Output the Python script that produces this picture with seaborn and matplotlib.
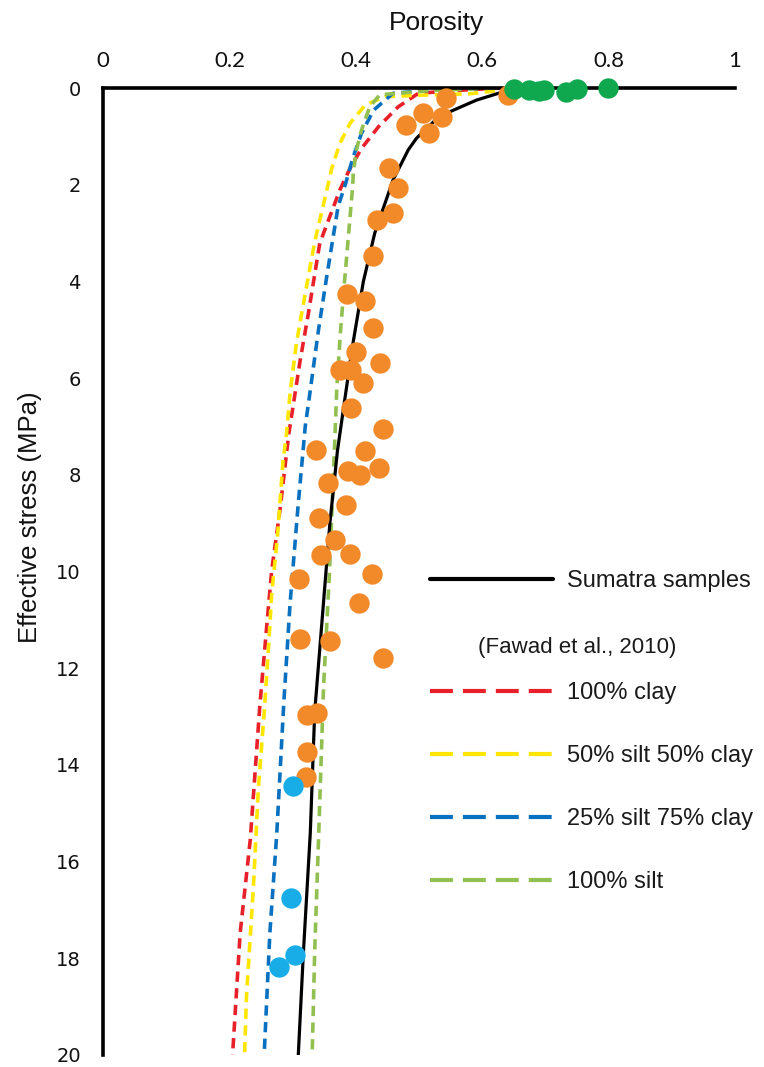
import numpy as np
import pandas as pd
import matplotlib
matplotlib.use("Agg")
import matplotlib.pyplot as plt
from matplotlib.lines import Line2D
import seaborn as sns

# Sumatra samples (porosity, effective stress in MPa)
orange_poro = [0.543, 0.641, 0.507, 0.536, 0.480, 0.516, 0.453, 0.466, 0.459, 0.433,
               0.428, 0.386, 0.415, 0.427, 0.400, 0.438, 0.375, 0.392, 0.412, 0.392,
               0.443, 0.337, 0.415, 0.387, 0.406, 0.437, 0.356, 0.384, 0.341, 0.367,
               0.345, 0.391, 0.425, 0.310, 0.405, 0.311, 0.359, 0.443, 0.322, 0.339,
               0.322, 0.321]
orange_stress = [0.21, 0.15, 0.52, 0.59, 0.77, 0.94, 1.66, 2.06, 2.59, 2.74,
                 3.47, 4.26, 4.40, 4.96, 5.46, 5.68, 5.83, 5.83, 6.10, 6.61,
                 7.06, 7.49, 7.50, 7.92, 8.01, 7.85, 8.16, 8.63, 8.89, 9.35,
                 9.65, 9.64, 10.05, 10.15, 10.66, 11.40, 11.44, 11.79, 12.97, 12.93,
                 13.73, 14.26]
green_poro = [0.651, 0.674, 0.690, 0.697, 0.733, 0.750, 0.799]
green_stress = [0.02, 0.04, 0.07, 0.05, 0.08, 0.03, 0.0]
blue_poro = [0.300, 0.297, 0.304, 0.279]
blue_stress = [14.44, 16.75, 17.94, 18.19]

# trend curves
sumatra_stress = [0, 0.08, 0.25, 0.49, 0.70, 1.04, 1.28, 1.90, 3.0, 4.0, 5.4, 7.5, 9.0, 12.9, 15.4, 17.9, 20]
sumatra_poro = [0.66, 0.633, 0.591, 0.549, 0.523, 0.496, 0.483, 0.459, 0.430, 0.412, 0.394, 0.371, 0.359, 0.335, 0.328, 0.317, 0.309]

clay_stress = [0.0, 0.05, 0.11, 0.39, 0.80, 1.25, 1.66, 2.10, 3.21, 4.66, 5.63, 6.73, 7.15, 8.73, 9.97, 11.14, 12.8, 15.55, 17.48, 20.0]
clay_poro = [0.63, 0.56, 0.499, 0.467, 0.436, 0.409, 0.391, 0.375, 0.343, 0.325, 0.312, 0.299, 0.294, 0.280, 0.267, 0.259, 0.248, 0.233, 0.217, 0.205]

silt50_stress = [0.06, 0.12, 0.15, 0.18, 0.35, 0.73, 1.14, 1.66, 2.12, 3.18, 4.25, 5.28, 6.31, 7.2, 7.69, 9.28, 10.45, 11.55, 12.93, 14.45, 16.52, 18.79, 20.0]
silt50_poro = [0.62, 0.58, 0.50, 0.446, 0.415, 0.391, 0.375, 0.362, 0.354, 0.335, 0.320, 0.306, 0.296, 0.290, 0.285, 0.276, 0.267, 0.262, 0.255, 0.246, 0.238, 0.227, 0.224]

silt25_stress = [0.0, 0.04, 0.11, 0.46, 0.94, 1.42, 1.97, 2.45, 3.90, 5.0, 6.25, 7.0, 8.59, 10.66, 12.73, 15.41, 17.48, 20.0]
silt25_poro = [0.62, 0.52, 0.459, 0.428, 0.409, 0.396, 0.384, 0.372, 0.354, 0.341, 0.328, 0.320, 0.309, 0.296, 0.286, 0.275, 0.264, 0.255]

silt100_stress = [0.0, 0.05, 0.14, 0.39, 0.87, 1.28, 1.76, 2.04, 3.11, 4.18, 5.0, 6.18, 7.21, 10.11, 12.38, 15.55, 17.83, 20.0]
silt100_poro = [0.62, 0.52, 0.438, 0.422, 0.409, 0.401, 0.396, 0.395, 0.388, 0.381, 0.376, 0.370, 0.367, 0.358, 0.349, 0.341, 0.335, 0.331]

x_ticks = [0, 0.2, 0.4, 0.6, 0.8, 1]
x_ticklabels = ["0", "0.2", "0.4", "0.6", "0.8", "1"]
y_ticks = list(range(0, 21, 2))

fawad_labels = ["100% clay", "50% silt 50% clay", "25% silt 75% clay", "100% silt"]
fawad_colors = ["#e8202a", "#ffe600", "#0a70c0", "#92c050"]

sns.set_theme(style="white")
plt.rcParams["lines.scale_dashes"] = False
plt.rcParams["font.family"] = ["Liberation Sans", "DejaVu Sans"]

fig = plt.figure(figsize=(7.64, 10.67), dpi=100)
ax = fig.add_axes([103 / 764, 1 - 1055 / 1067, 632 / 764, 967 / 1067])

dash = (0, (7.4, 4.6))
curves = [
    (clay_poro, clay_stress),
    (silt50_poro, silt50_stress),
    (silt25_poro, silt25_stress),
    (silt100_poro, silt100_stress),
]
for (p, s), c in zip(curves, fawad_colors):
    df = pd.DataFrame({"poro": p, "stress": s})
    sns.lineplot(data=df, x="poro", y="stress", sort=False, estimator=None,
                 color=c, linewidth=2.6, linestyle=dash, ax=ax, zorder=3)

df_sum = pd.DataFrame({"poro": sumatra_poro, "stress": sumatra_stress})
sns.lineplot(data=df_sum, x="poro", y="stress", sort=False, estimator=None,
             color="black", linewidth=2.3, ax=ax, zorder=4)

pts = [
    (orange_poro, orange_stress, "#f28a2a"),
    (green_poro, green_stress, "#10a84f"),
    (blue_poro, blue_stress, "#19ade8"),
]
for p, s, c in pts:
    d = pd.DataFrame({"poro": p, "stress": s})
    sns.scatterplot(data=d, x="poro", y="stress", color=c, s=215, linewidth=0,
                    ax=ax, zorder=6, clip_on=False)

ax.set_xlim(0, 1)
ax.set_ylim(20, 0)
ax.xaxis.tick_top()
ax.xaxis.set_label_position("top")
ax.set_xticks(x_ticks)
ax.set_xticklabels(x_ticklabels, fontsize=16, family=["Lato", "DejaVu Sans"])
ax.set_yticks(y_ticks)
ax.set_yticklabels([str(v) for v in y_ticks], fontsize=14, family=["DejaVu Sans"])
ax.tick_params(axis="x", length=0, pad=12, colors="#111111")
ax.tick_params(axis="y", length=0, pad=16, colors="#111111")
ax.set_xlabel("Porosity", fontsize=19, color="#111111")
ax.set_ylabel("Effective stress (MPa)", fontsize=18.5, color="#111111")
ax.xaxis.set_label_coords(0.527, 1.060)
ax.yaxis.set_label_coords(-0.097, 0.556)

for side in ["bottom", "right"]:
    ax.spines[side].set_visible(False)
for side in ["top", "left"]:
    ax.spines[side].set_visible(True)
    ax.spines[side].set_linewidth(2.6)
    ax.spines[side].set_color("black")
    ax.spines[side].set_zorder(5)

# legends
leg_dash = (0, (16.5, 7.2))
common = dict(loc="upper left", bbox_transform=fig.transFigure, frameon=False,
              borderpad=0, borderaxespad=0, handlelength=5.2, handletextpad=0.6,
              fontsize=17)
leg1 = ax.legend([Line2D([0], [0], color="black", lw=3)], ["Sumatra samples"],
                 bbox_to_anchor=(430 / 764, 1 - 570 / 1067), **common)
ax.add_artist(leg1)
fawad_handles = [Line2D([0], [0], color=c, lw=3, linestyle=leg_dash) for c in fawad_colors]
leg2 = ax.legend(fawad_handles, fawad_labels, labelspacing=1.74,
                 bbox_to_anchor=(430 / 764, 1 - 682 / 1067), **common)
for lg in (leg1, leg2):
    for t in lg.get_texts():
        t.set_color("#1a1a1a")
fig.text(478 / 764, 1 - 647 / 1067, "(Fawad et al., 2010)", fontsize=16,
         va="center", ha="left", color="#1a1a1a")

fig.savefig("out.png", dpi=100)
